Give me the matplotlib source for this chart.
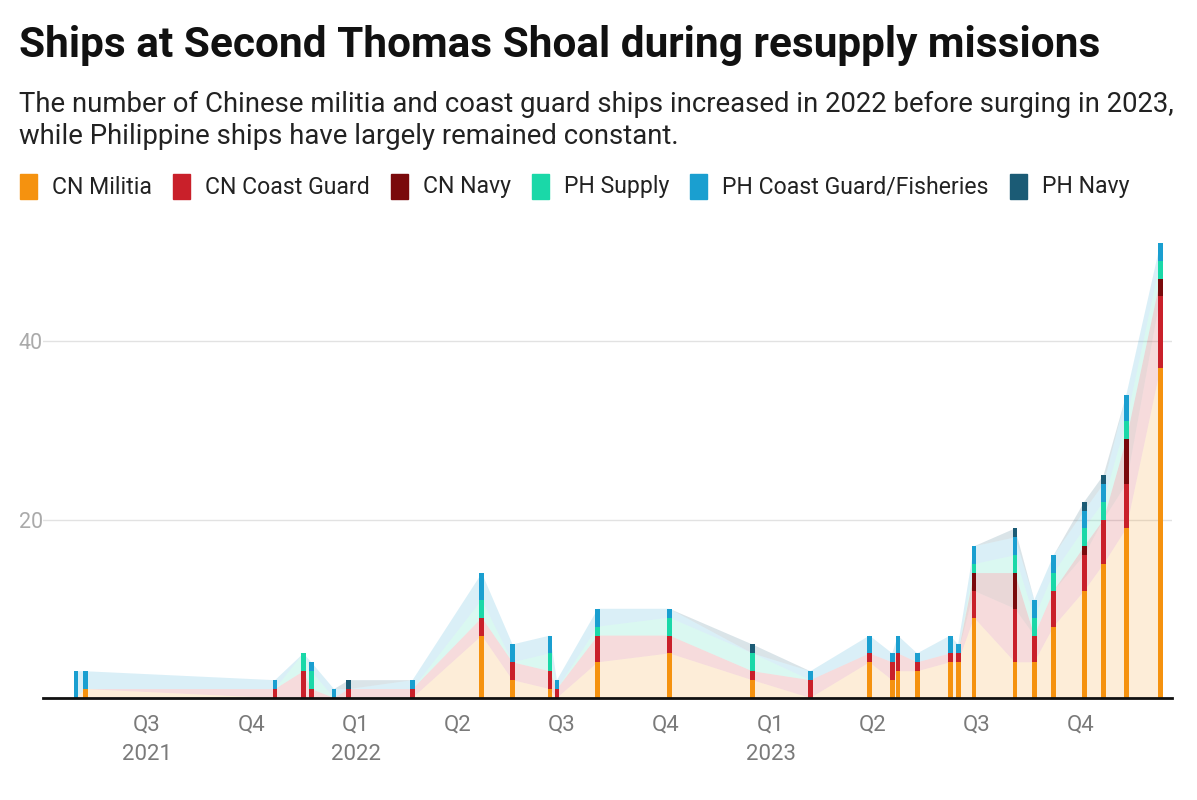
import numpy as np
import pandas as pd
import matplotlib
matplotlib.use("Agg")
import matplotlib.pyplot as plt
from matplotlib.patches import Rectangle

plt.rcParams['font.family'] = ['Roboto', 'DejaVu Sans']

# resupply mission dates and ship counts per category
dates = ['2021-04-30', '2021-05-08', '2021-10-22', '2021-11-16', '2021-11-23',
         '2021-12-13', '2021-12-26', '2022-02-20', '2022-04-22', '2022-05-19',
         '2022-06-21', '2022-06-27', '2022-08-02', '2022-10-04', '2022-12-16',
         '2023-02-05', '2023-03-29', '2023-04-18', '2023-04-23', '2023-05-10',
         '2023-06-08', '2023-06-15', '2023-06-29', '2023-08-04', '2023-08-21',
         '2023-09-07', '2023-10-04', '2023-10-21', '2023-11-10', '2023-12-10']
cn_militia = [0, 1, 0, 0, 0, 0, 0, 0, 7, 2, 1, 0, 4, 5, 2,
              0, 4, 2, 3, 3, 4, 4, 9, 4, 4, 8, 12, 15, 19, 37]
cn_coast_guard = [0, 0, 1, 3, 1, 0, 1, 1, 2, 2, 2, 1, 3, 2, 1,
                  2, 1, 2, 2, 1, 1, 1, 3, 6, 3, 4, 4, 5, 5, 8]
cn_navy = [0, 0, 0, 0, 0, 0, 0, 0, 0, 0, 0, 0, 0, 0, 0,
           0, 0, 0, 0, 0, 0, 0, 2, 4, 0, 0, 1, 0, 5, 2]
ph_supply = [0, 0, 0, 2, 2, 0, 0, 0, 2, 0, 2, 0, 1, 2, 2,
             0, 0, 0, 0, 0, 0, 0, 1, 2, 2, 2, 2, 2, 2, 2]
ph_coast_guard = [3, 2, 1, 0, 1, 1, 0, 1, 3, 2, 2, 1, 2, 1, 0,
                  1, 2, 1, 2, 1, 2, 1, 2, 2, 2, 2, 2, 2, 3, 2]
ph_navy = [0, 0, 0, 0, 0, 0, 1, 0, 0, 0, 0, 0, 0, 0, 1,
           0, 0, 0, 0, 0, 0, 0, 0, 1, 0, 0, 1, 1, 0, 0]

labels = ['CN Militia', 'CN Coast Guard', 'CN Navy', 'PH Supply',
          'PH Coast Guard/Fisheries', 'PH Navy']
colors = ['#f5920f', '#c9202a', '#7a0a0c', '#1ad8a8', '#1a9fd0', '#1b5b75']

quarter_ticks = ['2021-07-01', '2021-10-01', '2022-01-01', '2022-04-01', '2022-07-01',
                 '2022-10-01', '2023-01-01', '2023-04-01', '2023-07-01', '2023-10-01']
quarter_labels = ['Q3\n2021', 'Q4', 'Q1\n2022', 'Q2', 'Q3', 'Q4', 'Q1\n2023', 'Q2', 'Q3', 'Q4']

x = pd.to_datetime(dates)
series = [cn_militia, cn_coast_guard, cn_navy, ph_supply, ph_coast_guard, ph_navy]

fig = plt.figure(figsize=(11.97, 8), dpi=100)
ax = fig.add_axes([0.036, 0.1275, 0.943, 0.58])

# light stacked area behind the bars
ax.stackplot(x, *series, colors=colors, alpha=0.16, linewidth=0)

# stacked thin bars
bottom = np.zeros(len(dates))
for vals, c in zip(series, colors):
    ax.bar(x, vals, bottom=bottom, width=4.2, color=c, linewidth=0, zorder=3)
    bottom += np.array(vals)

ax.set_xlim(pd.Timestamp('2021-04-01'), pd.Timestamp('2023-12-20'))
ax.set_ylim(0, 52)
ax.set_yticks([20, 40])
ax.yaxis.grid(True, color='#e2e2e2', linewidth=1)
ax.set_axisbelow(True)
ax.tick_params(axis='y', length=0, pad=0, labelsize=15.5, labelcolor='#aaaaaa')
ax.set_xticks(pd.to_datetime(quarter_ticks))
ax.set_xticklabels(quarter_labels, fontsize=16, color='#7a7a7a', linespacing=1.55)
ax.tick_params(axis='x', length=0, pad=12)
for s in ['top', 'right', 'left']:
    ax.spines[s].set_visible(False)
ax.spines['bottom'].set_color('#111111')
ax.spines['bottom'].set_linewidth(2)
ax.spines['bottom'].set_zorder(5)

fig.text(0.016, 1 - 45 / 800, 'Ships at Second Thomas Shoal during resupply missions',
         fontsize=30.5, fontweight='bold', va='center', ha='left', color='#111111')
fig.text(0.016, 1 - 104 / 800,
         'The number of Chinese militia and coast guard ships increased in 2022 before surging in 2023,',
         fontsize=19.8, va='center', ha='left', color='#222222')
fig.text(0.016, 1 - 136 / 800, 'while Philippine ships have largely remained constant.',
         fontsize=19.8, va='center', ha='left', color='#222222')

# legend row
renderer = fig.canvas.get_renderer()
lx = 20
ly = 187
for lab, c in zip(labels, colors):
    fig.patches.append(Rectangle((lx / 1197, 1 - (ly + 12) / 800), 17 / 1197, 25 / 800,
                                 transform=fig.transFigure, color=c, figure=fig))
    t = fig.text((lx + 32) / 1197, 1 - ly / 800, lab, fontsize=16.6, va='center',
                 ha='left', color='#222222')
    w = t.get_window_extent(renderer).width
    lx = lx + 32 + w + 21

fig.savefig('out.png', dpi=100)
